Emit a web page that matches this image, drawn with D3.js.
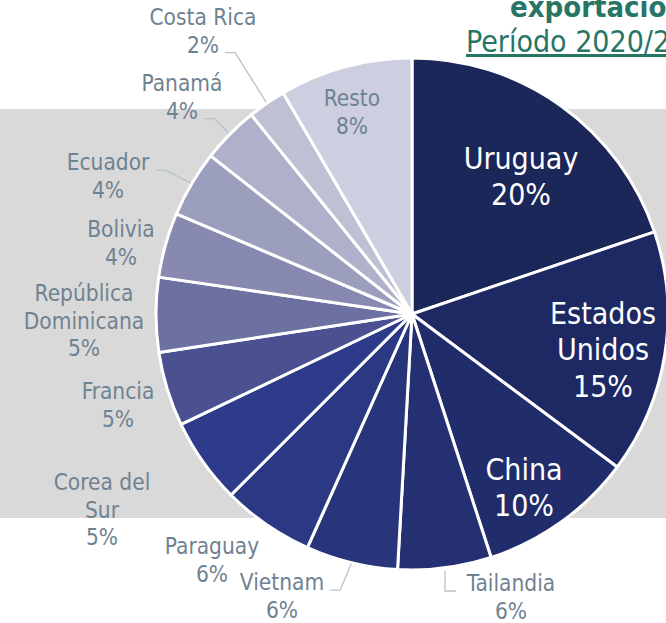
<!DOCTYPE html>
<html><head><meta charset="utf-8">
<script src="https://cdn.jsdelivr.net/npm/d3@7"></script>
<style>body{margin:0;background:#fff;overflow:hidden}svg{display:block}</style>
</head><body>
<svg id="c" width="666" height="623"></svg>
<script>
const countries = ["Uruguay","Estados Unidos","China","Tailandia","Vietnam","Paraguay","Corea del Sur","Francia","República Dominicana","Bolivia","Ecuador","Panamá","Costa Rica","Resto"];
const shares = [19.8,15.4,9.8,5.9,5.8,5.8,5.4,4.7,4.7,4.1,4.2,3.6,2.4,8.4];
const pctLabels = ["20%","15%","10%","6%","6%","6%","5%","5%","5%","4%","4%","4%","2%","8%"];
const colors = ["#1b2659","#1e2964","#212c6b","#243072","#28357a","#2b3883","#2e3b8b","#4a5090","#6c71a1","#8789b0","#9c9ebd","#afb0c9","#bfc0d4","#cdcedf"];
const nameLines = [["Uruguay"],["Estados","Unidos"],["China"],["Tailandia"],["Vietnam"],["Paraguay"],["Corea del","Sur"],["Francia"],["República","Dominicana"],["Bolivia"],["Ecuador"],["Panamá"],["Costa Rica"],["Resto"]];
const titleLines = ["exportaciones","Período 2020/2021"];
// label layout: centre x, first line y; leader: which text row the connector leaves from
const labelPos = [
  {x:521,y:158,inside:true},
  {x:603,y:313,inside:true},
  {x:524,y:469,inside:true},
  {x:511,y:583,leader:"tai"},
  {x:282,y:582,leader:"row",row:0},
  {x:212,y:546},
  {x:102,y:482},
  {x:118,y:391},
  {x:84,y:293},
  {x:121,y:229},
  {x:108,y:162,leader:"row",row:0},
  {x:182,y:83,leader:"row",row:1},
  {x:203,y:17,leader:"row",row:1},
  {x:352,y:98,inside:true,gray:true}
];

const svg = d3.select("#c");
const W=666,H=623, cx=412, cy=314, R=256;
const lineH = 27.5;
const labelColor = "#6f8291";
const font = "'DejaVu Sans Condensed', 'DejaVu Sans', sans-serif";

svg.append("rect").attr("x",0).attr("y",109).attr("width",W).attr("height",409).attr("fill","#d9d9d9");

// title (cut off at the right edge, as in the source)
svg.append("text").attr("x",510).attr("y",17).attr("font-family",font).attr("font-weight","bold")
  .attr("font-size",29).attr("fill","#267565").text(titleLines[0]);
svg.append("text").attr("x",466).attr("y",52).attr("font-family",font)
  .attr("font-size",30).attr("fill","#267565").attr("text-decoration","underline").text(titleLines[1]);

const pie = d3.pie().sort(null).value(d=>d)(shares);
const arc = d3.arc().innerRadius(0).outerRadius(R);
const g = svg.append("g").attr("transform",`translate(${cx},${cy})`);
g.selectAll("path").data(pie).join("path")
  .attr("d",arc).attr("fill",(d,i)=>colors[i])
  .attr("stroke","#fff").attr("stroke-width",3).attr("stroke-linejoin","round");

const edge = (d,extra)=>{const a=(d.startAngle+d.endAngle)/2; return [cx+Math.sin(a)*(R+extra), cy-Math.cos(a)*(R+extra)];};
const leaderG = svg.append("g");

labelPos.forEach((p,i)=>{
  const lines = nameLines[i].concat([pctLabels[i]]);
  const big = p.inside && !p.gray;
  const fs = big ? 30 : 22.5;
  const t = svg.append("text").attr("text-anchor","middle").attr("font-family",font)
    .attr("fill", big ? "#ffffff" : labelColor)
    .attr("font-size", fs);
  const lh = big ? 36.5 : lineH;
  const spans = lines.map((l,k)=> t.append("tspan").attr("x",p.x).attr("y",p.y + k*lh).attr("dy","0.36em").text(l));
  if(!p.leader) return;
  const [ex,ey] = edge(pie[i],1);
  let pts;
  if(p.leader==="tai"){
    pts=[[ex,ey+2],[ex,p.y+8],[ex+11,p.y+8]];
  } else {
    const w = spans[p.row].node().getComputedTextLength();
    const lx = p.x + w/2 + 6;
    const ly = p.y + p.row*lh + 0.36*fs;
    pts=[[lx,ly],[lx+10,ly],[ex,ey]];
  }
  leaderG.append("path").attr("d",d3.line()(pts)).attr("fill","none").attr("stroke","#b5c2ca").attr("stroke-width",1.3);
});
</script>
</body></html>
